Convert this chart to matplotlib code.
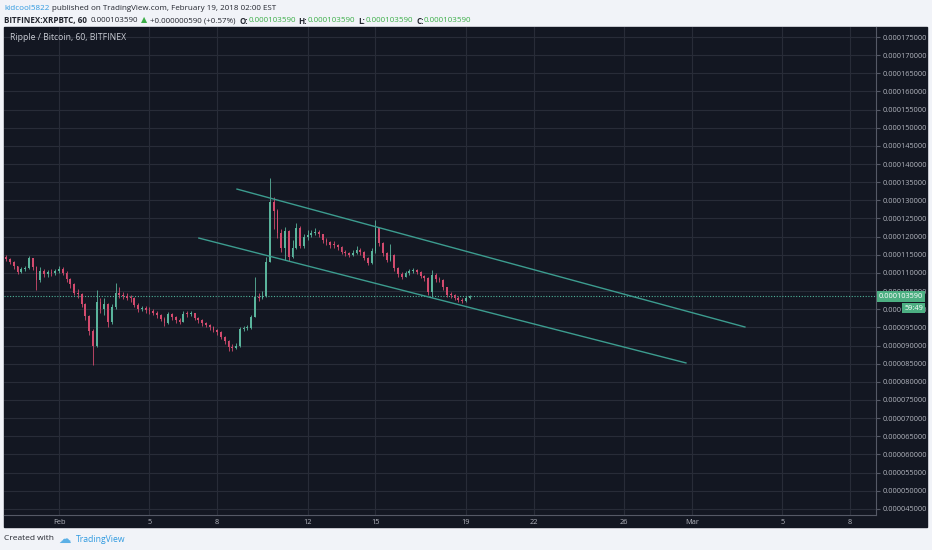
import matplotlib
matplotlib.use('Agg')
import matplotlib.pyplot as plt
import matplotlib.dates as mdates
import matplotlib.transforms as mtransforms
from matplotlib.patches import Rectangle
import numpy as np
from datetime import datetime, timedelta

plt.rcParams['font.family'] = ['Open Sans', 'DejaVu Sans']

# 4-hour candles, prices in units of 1e-6 BTC
start = datetime(2018, 1, 29, 16)
first_open = 114.5
closes = [113.8, 113.0, 111.8, 110.3, 111.0, 111.4, 114.0, 111.5, 108.0, 110.5,
          109.6, 110.2, 110.0, 110.6, 111.2, 110.0, 108.2, 107.0, 104.5, 104.2,
          101.5, 98.0, 94.0, 90.0, 102.0, 100.0, 101.5, 96.5, 100.5, 104.5,
          104.0, 103.6, 103.2, 103.0, 101.2, 100.0, 100.3, 99.8, 99.6, 99.0,
          98.4, 97.4, 96.2, 98.6, 97.8, 97.0, 96.6, 98.8, 98.6, 98.9,
          97.6, 96.9, 96.2, 95.7, 95.2, 94.3, 93.7, 92.4, 91.3, 89.5,
          89.4, 89.8, 94.6, 94.8, 94.9, 97.9, 103.4, 103.2, 103.6, 113.0,
          129.5, 127.0, 121.0, 117.0, 121.5, 114.5, 117.0, 122.5, 117.5, 119.8,
          120.4, 121.0, 121.4, 120.6, 119.0, 118.5, 117.7, 117.6, 117.1, 115.8,
          115.4, 115.0, 115.5, 116.3, 115.8, 114.2, 112.8, 116.0, 122.4, 118.2,
          115.5, 113.6, 115.0, 111.3, 109.6, 109.0, 110.0, 110.4, 110.8, 110.3,
          109.2, 108.6, 104.8, 109.5, 108.4, 108.1, 106.0, 104.0, 103.9, 103.2,
          102.5, 102.3, 103.0, 103.59]
highs = [115.0, 114.2, 113.3, 112.0, 111.6, 112.0, 114.8, 114.2, 112.0, 111.5,
         111.0, 110.8, 111.0, 111.2, 111.8, 111.5, 110.4, 108.5, 107.2, 105.5,
         104.6, 101.8, 98.5, 94.5, 105.3, 103.0, 103.2, 101.8, 101.5, 107.3,
         106.0, 104.8, 104.5, 104.0, 103.5, 101.8, 101.0, 100.8, 100.5, 100.0,
         99.4, 98.8, 97.8, 99.3, 99.0, 98.2, 97.6, 99.4, 99.5, 99.6,
         99.0, 97.9, 97.2, 96.6, 96.0, 95.5, 94.6, 94.0, 92.7, 91.5,
         90.5, 90.6, 95.2, 95.5, 95.6, 98.3, 108.9, 104.5, 105.0, 114.5,
         136.2, 131.0, 127.5, 122.0, 122.7, 121.8, 119.0, 123.8, 122.8, 120.8,
         121.8, 121.9, 122.3, 121.8, 120.8, 119.5, 118.8, 118.8, 118.0, 117.3,
         116.2, 115.8, 116.3, 117.4, 117.0, 116.0, 114.5, 116.8, 124.6, 122.6,
         118.6, 115.8, 118.0, 115.2, 111.6, 110.2, 110.6, 111.0, 111.4, 111.2,
         110.6, 109.4, 108.8, 110.8, 110.0, 109.0, 108.3, 106.2, 104.8, 104.3,
         103.6, 103.0, 103.6, 103.9]
lows = [113.2, 112.5, 111.2, 109.8, 109.9, 110.5, 111.0, 110.8, 105.3, 107.5,
        108.8, 109.0, 109.2, 109.5, 110.0, 109.4, 107.5, 105.8, 103.8, 103.0,
        100.5, 97.0, 93.0, 84.6, 89.5, 99.0, 98.5, 95.0, 96.0, 100.0,
        103.0, 102.8, 102.5, 102.0, 100.5, 99.2, 99.5, 99.0, 98.8, 98.3,
        97.6, 96.8, 95.4, 95.8, 97.0, 96.2, 95.9, 96.4, 97.8, 98.0,
        97.0, 96.2, 95.5, 95.0, 94.4, 93.6, 92.9, 91.7, 90.5, 88.6,
        88.6, 89.0, 89.5, 94.0, 94.2, 94.6, 97.8, 102.4, 102.8, 103.5,
        113.0, 122.0, 119.5, 115.8, 113.6, 113.4, 114.0, 116.5, 116.8, 117.0,
        119.2, 119.8, 120.5, 119.8, 118.3, 117.6, 117.0, 116.8, 116.4, 115.2,
        114.7, 114.3, 114.6, 115.3, 115.0, 113.6, 112.2, 112.5, 115.5, 117.4,
        114.8, 113.0, 113.2, 110.6, 108.9, 108.3, 108.8, 109.5, 110.0, 109.6,
        108.5, 107.8, 104.0, 103.4, 107.6, 107.4, 105.2, 103.3, 103.2, 102.6,
        101.9, 101.8, 102.0, 102.9]

upper_t = [datetime(2018, 2, 8, 21), datetime(2018, 3, 3, 8, 24)]
upper_p = [133.1, 95.1]
lower_t = [datetime(2018, 2, 7, 4, 30), datetime(2018, 2, 28, 17, 45)]
lower_p = [119.6, 85.2]
last_price = 103.59

tick_dates = [datetime(2018, 2, d) for d in (1, 5, 8, 12, 15, 19, 22, 26)] + \
             [datetime(2018, 3, d) for d in (1, 5, 8)]
tick_labels = ['Feb', '5', '8', '12', '15', '19', '22', '26', 'Mar', '5', '8']
price_ticks = list(range(45, 176, 5))

W, H = 932, 550
def fx(px):
    return px / W
def fy(py):
    return 1 - py / H

bg = '#131722'
grid_c = '#282c38'
up_c = '#5ab49c'
down_c = '#d24b6e'
trend_c = '#3c9c8f'
text_dark = '#23262f'
green_txt = '#3cae48'
blue_txt = '#2f9ae0'

fig = plt.figure(figsize=(9.32, 5.5), dpi=100)
fig.patch.set_facecolor('#f1f3f8')
fig.patches.append(Rectangle((fx(4), fy(527)), fx(927) - fx(4), fy(27) - fy(527),
                             transform=fig.transFigure, color=bg, zorder=-10))

ax = fig.add_axes([fx(4), fy(515), fx(876) - fx(4), fy(27) - fy(515)])
ax.set_facecolor(bg)
for s in ('left', 'top'):
    ax.spines[s].set_visible(False)
ax.spines['right'].set_color('#555966')
ax.spines['bottom'].set_color('#555966')
ax.spines['right'].set_linewidth(0.8)
ax.spines['bottom'].set_linewidth(0.8)

# candles
tn = mdates.date2num([start + timedelta(hours=4 * i) for i in range(len(closes))])
opens = [first_open] + closes[:-1]
cols = [up_c if c >= o else down_c for o, c in zip(opens, closes)]
ax.vlines(tn, lows, highs, colors=cols, lw=0.6, zorder=3)
bottoms = [min(o, c) for o, c in zip(opens, closes)]
heights = [max(abs(c - o), 0.3) for o, c in zip(opens, closes)]
ax.bar(tn, heights, bottom=bottoms, width=0.08, color=cols, lw=0, zorder=3)

# trend channel and last price
ax.plot(mdates.date2num(upper_t), upper_p, color=trend_c, lw=1.0, zorder=4)
ax.plot(mdates.date2num(lower_t), lower_p, color=trend_c, lw=1.0, zorder=4)
ax.axhline(last_price, color='#4fb39a', ls=(0, (1, 1.5)), lw=0.8, zorder=2)

feb1 = mdates.date2num(datetime(2018, 2, 1))
ax.set_xlim(feb1 - 2.434, feb1 + 36.15)
ax.set_ylim(43.3, 177.76)

ax.set_xticks(mdates.date2num(tick_dates))
ax.set_xticklabels(tick_labels)
ax.set_yticks(price_ticks)
ax.set_yticklabels([f"{v * 1e-6:.9f}" for v in price_ticks])
ax.yaxis.tick_right()
ax.tick_params(axis='y', length=3, color='#555966', labelcolor='#b2b5be',
               labelsize=5.3, pad=2)
ax.tick_params(axis='x', length=0, labelcolor='#b2b5be', labelsize=5.3, pad=3)
ax.grid(True, color=grid_c, lw=0.8, zorder=0)
ax.set_axisbelow(True)

ax.text((10 - 4) / 872, 1 - (37 - 27) / 488, 'Ripple / Bitcoin, 60, BITFINEX',
        transform=ax.transAxes, color='#c9ccd4', fontsize=6.2, va='center', ha='left')

# last price labels on price axis
trans = mtransforms.blended_transform_factory(ax.transAxes, ax.transData)
ax.text((879 - 4) / 872, last_price, '0.000103590', transform=trans, color='white',
        fontsize=5.3, va='center', ha='left', clip_on=False, zorder=10,
        bbox=dict(boxstyle='square,pad=0.25', fc='#4caf82', ec='none'))
ax.text((923 - 4) / 872, 100.3, '59:49', transform=trans, color='white',
        fontsize=5.3, va='center', ha='right', clip_on=False, zorder=10,
        bbox=dict(boxstyle='square,pad=0.25', fc='#4caf82', ec='none'))

# header and footer text
renderer = fig.canvas.get_renderer()
def write_line(x_px, y_px, parts, size):
    x = fx(x_px)
    for s, color, weight, gap in parts:
        t = fig.text(x, fy(y_px), s, color=color, fontsize=size, fontweight=weight,
                     va='center', ha='left')
        bb = t.get_window_extent(renderer=renderer)
        x = fx(bb.x1 + gap)

write_line(4, 8, [('kidcool5822', blue_txt, 'normal', 3),
                  ('published on TradingView.com, February 19, 2018 02:00 EST', text_dark, 'normal', 0)], 5.8)
write_line(4, 21, [('BITFINEX:XRPBTC, 60', text_dark, 'bold', 4),
                   ('0.000103590', text_dark, 'normal', 3),
                   ('▲', green_txt, 'normal', 3),
                   ('+0.000000590 (+0.57%)', text_dark, 'normal', 3),
                   ('O:', text_dark, 'bold', 0.5), ('0.000103590', green_txt, 'normal', 3),
                   ('H:', text_dark, 'bold', 0.5), ('0.000103590', green_txt, 'normal', 3),
                   ('L:', text_dark, 'bold', 0.5), ('0.000103590', green_txt, 'normal', 3),
                   ('C:', text_dark, 'bold', 0.5), ('0.000103590', green_txt, 'normal', 0)], 5.8)

fig.text(fx(4), fy(539), 'Created with', color=text_dark, fontsize=6.0, va='center')
fig.text(fx(58), fy(539), '☁', color='#5bb0e6', fontsize=9, va='center',
         family='DejaVu Sans')
fig.text(fx(76), fy(539), 'TradingView', color=blue_txt, fontsize=6.2, va='center')

plt.savefig('out.png', dpi=100, facecolor=fig.get_facecolor())
